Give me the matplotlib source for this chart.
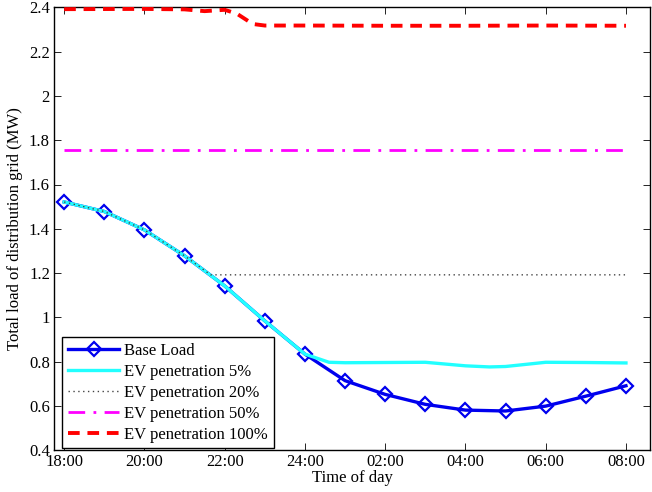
import matplotlib
matplotlib.use('Agg')
import matplotlib.pyplot as plt

# hours after 18:00
hours = [0, 1, 2, 3, 4, 5, 6, 7, 8, 9, 10, 11, 12, 13, 14]
tick_hours = [0, 2, 4, 6, 8, 10, 12, 14]
tick_labels = ['18:00', '20:00', '22:00', '24:00', '02:00', '04:00', '06:00', '08:00']

base_load = [1.521, 1.478, 1.395, 1.278, 1.142, 0.984, 0.834, 0.714, 0.652,
             0.607, 0.581, 0.577, 0.599, 0.644, 0.691]

ev5_hours = [0, 1, 2, 3, 4, 5, 6, 6.6, 7, 8, 9, 10, 10.6, 11, 12, 13, 14]
ev5 = [1.521, 1.478, 1.395, 1.278, 1.142, 0.984, 0.834, 0.797, 0.795, 0.796,
       0.797, 0.781, 0.776, 0.778, 0.797, 0.796, 0.794]

ev20_hours = [0, 1, 2, 3, 3.65, 4, 6, 8, 10, 12, 14]
ev20 = [1.521, 1.478, 1.395, 1.278, 1.192, 1.192, 1.192, 1.192, 1.192, 1.192, 1.192]

ev50_hours = [0, 14]
ev50 = [1.757, 1.757]

ev100_hours = [0, 2, 3, 3.5, 4, 4.3, 4.7, 5, 6, 8, 10, 12, 14]
ev100 = [2.392, 2.393, 2.391, 2.383, 2.389, 2.372, 2.325, 2.318, 2.318, 2.317,
         2.317, 2.318, 2.317]

plt.rcParams['font.family'] = ['Liberation Serif', 'DejaVu Serif']
plt.rcParams['font.size'] = 12

fig = plt.figure(figsize=(6.52, 4.92), dpi=100)
ax = fig.add_axes([0.083, 0.085, 0.914, 0.900])

ax.plot(hours, base_load, color='#0000ee', lw=2.4, marker='D', markersize=7,
        markerfacecolor='none', markeredgewidth=1.6, label='Base Load', zorder=3)
ax.plot(ev5_hours, ev5, color='#22ffff', lw=2.4, label='EV penetration 5%', zorder=4)
ax.plot(ev20_hours, ev20, color='#444444', lw=1.0, linestyle=(0, (1, 2.5)),
        label='EV penetration 20%', zorder=5)
ax.plot(ev50_hours, ev50, color='#ff00ff', lw=2.0, linestyle=(0, (6, 3, 1, 3)),
        label='EV penetration 50%', zorder=3)
ax.plot(ev100_hours, ev100, color='#ff0000', lw=2.8, linestyle=(0, (3, 2)),
        label='EV penetration 100%', zorder=3)

ax.set_xlim(-0.25, 14.6)
ax.set_ylim(0.4, 2.4)
ax.set_xticks(tick_hours)
ax.set_xticklabels(tick_labels)
ax.set_yticks([0.4, 0.6, 0.8, 1.0, 1.2, 1.4, 1.6, 1.8, 2.0, 2.2, 2.4])
ax.set_yticklabels(['0.4', '0.6', '0.8', '1', '1.2', '1.4', '1.6', '1.8', '2', '2.2', '2.4'])
ax.tick_params(direction='in', top=True, right=True, length=5, width=0.6, pad=3)
for s in ax.spines.values():
    s.set_linewidth(1.0)

ax.set_xlabel('Time of day', labelpad=0)
ax.set_ylabel('Total load of distribution grid (MW)', labelpad=4)

leg = ax.legend(loc='lower left', bbox_to_anchor=(0.013, 0.004), borderaxespad=0,
                fancybox=False, edgecolor='black', framealpha=1, handlelength=3.1,
                borderpad=0.35, labelspacing=0.3, handletextpad=0.3, fontsize=12)
leg.get_frame().set_linewidth(1.0)

fig.savefig('out.png', dpi=100)
